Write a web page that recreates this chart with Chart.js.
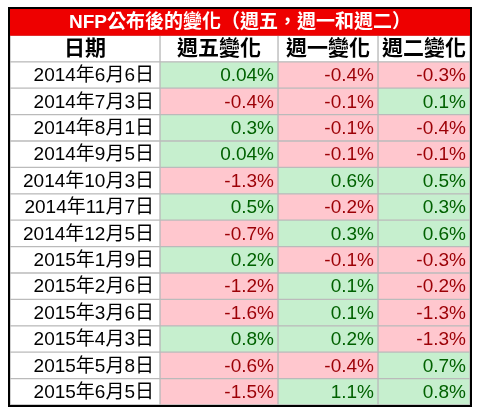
<!DOCTYPE html>
<html><head><meta charset="utf-8">
<script src="https://cdn.jsdelivr.net/npm/chart.js@4"></script>
<style>html,body{margin:0;padding:0;background:#fff}#c{display:block}</style>
</head><body>
<div style="width:478px;height:408px"><canvas id="c"></canvas></div>
<script>
const title = 'NFP公布後的變化（週五，週一和週二）';
const headers = ['日期','週五變化','週一變化','週二變化'];
const dates = ['2014年6月6日','2014年7月3日','2014年8月1日','2014年9月5日','2014年10月3日','2014年11月7日','2014年12月5日','2015年1月9日','2015年2月6日','2015年3月6日','2015年4月3日','2015年5月8日','2015年6月5日'];
const fri = [0.04,-0.4,0.3,0.04,-1.3,0.5,-0.7,0.2,-1.2,-1.6,0.8,-0.6,-1.5];
const mon = [-0.4,-0.1,-0.1,-0.1,0.6,-0.2,0.3,-0.1,0.1,0.1,0.2,-0.4,1.1];
const tue = [-0.3,0.1,-0.4,-0.1,0.5,0.3,0.6,-0.3,-0.2,-1.3,-1.3,0.7,0.8];
const colEdges = [10,160,278,378,470];

const rows = ['title','header'].concat(dates);
const GREEN='#c6efce', RED='#ffc7ce', GTXT='#006100', RTXT='#9c0006';
function span(i){return rows.map((r,k)=>k===0?null:[colEdges[i],colEdges[i+1]]);}
function colors(vals){return rows.map((r,k)=>k<2?'#ffffff':(vals[k-2]>=0?GREEN:RED));}
const fmt = v => (v===0.04?'0.04':v.toFixed(1))+'%';
const valueCols=[null,fri,mon,tue];
const datasets=[{data:rows.map((r,k)=>k===0?[colEdges[0],colEdges[4]]:null),backgroundColor:'#ee0000',borderWidth:0}];
for(let i=0;i<4;i++){
  datasets.push({data:span(i),backgroundColor:i===0?rows.map(()=>'#fff'):colors(valueCols[i]),borderColor:'#bbbbbb',borderWidth:{left:1,right:1,top:1,bottom:1},borderSkipped:false});
}
const textPlugin={id:'txt',afterDatasetsDraw(ch){
  const c=ch.ctx, y=ch.scales.y;
  c.save(); c.textBaseline='middle';
  const cy=k=>y.getPixelForValue(k);
  c.fillStyle='#fff'; c.font='bold 19px "Liberation Sans","Noto Sans CJK TC"'; c.textAlign='center';
  c.fillText(title,(colEdges[0]+colEdges[4])/2,cy(0)+1);
  c.fillStyle='#000'; c.font='bold 21px "Liberation Sans","Noto Sans CJK TC"';
  headers.forEach((h,i)=>c.fillText(h,(colEdges[i]+colEdges[i+1])/2,cy(1)+1));
  c.font='19px "Liberation Sans","Noto Sans CJK TC"'; c.textAlign='right';
  dates.forEach((d,k)=>{
    c.fillStyle='#000'; c.fillText(d,colEdges[1]-6,cy(k+2)+1);
    for(let i=1;i<4;i++){const v=valueCols[i][k];c.fillStyle=v>=0?GTXT:RTXT;c.fillText(fmt(v),colEdges[i+1]-4,cy(k+2)+1);}
  });
  const a=ch.chartArea; c.strokeStyle='#000'; c.lineWidth=2;
  c.strokeRect(colEdges[0]-1,a.top-1,colEdges[4]-colEdges[0]+2,a.bottom-a.top+2);
  c.restore();
}};
new Chart(document.getElementById('c'),{type:'bar',data:{labels:rows,datasets},
 options:{indexAxis:'y',responsive:true,maintainAspectRatio:false,animation:false,
  layout:{padding:{top:9,bottom:3,left:0,right:0}},
  plugins:{legend:{display:false},tooltip:{enabled:false}},
  datasets:{bar:{barPercentage:1,categoryPercentage:1}},
  scales:{x:{type:'linear',min:0,max:478,display:false},y:{stacked:true,display:false}}},
 plugins:[textPlugin]});
</script></body></html>
